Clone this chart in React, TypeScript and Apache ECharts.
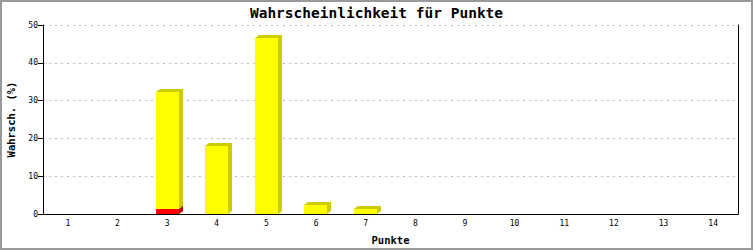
import React, { useEffect, useRef } from "react";
import * as echarts from "echarts";

const categories = ["1", "2", "3", "4", "5", "6", "7", "8", "9", "10", "11", "12", "13", "14"];
const totalValues = [0, 0, 32.2, 18.1, 46.6, 2.5, 1.25, 0, 0, 0, 0, 0, 0, 0];
const redValues = [0, 0, 1.4, 0, 0, 0, 0, 0, 0, 0, 0, 0, 0, 0];
const yTicks = { min: 0, max: 50, interval: 10 };

const MONO = "'DejaVu Sans Mono', monospace";

function makeRender(front: string, side: string, withTop: boolean) {
  return (params: any, api: any) => {
    const idx = api.value(0);
    const v = api.value(1);
    if (!v || v <= 0) return null;
    const top = api.coord([idx, v]);
    const base = api.coord([idx, 0]);
    const bw = api.size([1, 0])[0] * 0.465;
    const x0 = Math.round(top[0] - bw / 2);
    const x1 = x0 + Math.round(bw);
    const yT = Math.round(top[1]);
    const yB = Math.round(base[1]);
    const dx = 4;
    const dy = 3;
    const points = withTop
      ? [
          [x0, yT],
          [x0 + dx, yT - dy],
          [x1 + dx, yT - dy],
          [x1 + dx, yB - dy],
          [x1, yB],
          [x0, yB],
        ]
      : [
          [x1, yT],
          [x1 + dx, yT - dy],
          [x1 + dx, yB - dy],
          [x1, yB],
        ];
    return {
      type: "group",
      children: [
        { type: "polygon", shape: { points }, style: { fill: side } },
        {
          type: "rect",
          shape: { x: x0, y: yT, width: x1 - x0, height: yB - yT },
          style: { fill: front },
        },
      ],
    };
  };
}

export default function App() {
  const ref = useRef<HTMLDivElement>(null);
  useEffect(() => {
    if (!ref.current) return;
    const chart = echarts.init(ref.current, undefined, { renderer: "svg" });
    chart.setOption({
      animation: false,
      backgroundColor: "#ffffff",
      title: {
        text: "Wahrscheinlichkeit für Punkte",
        left: "center",
        top: 0,
        textStyle: { fontFamily: MONO, fontSize: 14.5, fontWeight: "bold", color: "#000" },
      },
      graphic: [
        {
          type: "rect",
          shape: { x: 1, y: 1, width: 751, height: 248 },
          style: { fill: "none", stroke: "#999999", lineWidth: 2 },
          z: 100,
        },
      ],
      grid: { left: 43, right: 15, top: 25, bottom: 36, outerBoundsMode: "none", containLabel: false },
      xAxis: {
        type: "category",
        data: categories,
        name: "Punkte",
        nameLocation: "middle",
        nameGap: 20,
        nameTextStyle: { fontFamily: MONO, fontSize: 10.5, fontWeight: "bold", color: "#000" },
        axisLine: { lineStyle: { color: "#000", width: 1 } },
        axisTick: { show: false },
        axisLabel: { fontFamily: MONO, fontSize: 8, color: "#000", margin: 5 },
      },
      yAxis: [
        {
          type: "value",
          min: yTicks.min,
          max: yTicks.max,
          interval: yTicks.interval,
          name: "Wahrsch. (%)",
          nameLocation: "middle",
          nameRotate: 90,
          nameGap: 27,
          nameTextStyle: { fontFamily: MONO, fontSize: 10.5, fontWeight: "bold", color: "#000" },
          axisLine: { show: true, lineStyle: { color: "#000", width: 1 } },
          axisTick: { show: true, length: 5, lineStyle: { color: "#000" } },
          axisLabel: { fontFamily: MONO, fontSize: 8, color: "#000", margin: 5 },
          splitLine: { show: true, lineStyle: { color: "#bbbbbb", type: [2, 4], width: 1 } },
        },
        {
          type: "value",
          position: "right",
          min: yTicks.min,
          max: yTicks.max,
          interval: yTicks.interval,
          axisLine: { show: true, lineStyle: { color: "#000", width: 1 } },
          axisTick: { show: false },
          axisLabel: { show: false },
          splitLine: { show: false },
        },
      ],
      series: [
        {
          type: "custom",
          name: "total",
          renderItem: makeRender("#ffff00", "#cccc00", true),
          data: totalValues.map((v, i) => [i, v]),
          encode: { x: 0, y: 1 },
          z: 2,
        },
        {
          type: "custom",
          name: "red",
          renderItem: makeRender("#ff0000", "#bb0000", false),
          data: redValues.map((v, i) => [i, v]),
          encode: { x: 0, y: 1 },
          z: 3,
        },
      ],
    });
    return () => chart.dispose();
  }, []);
  return (
    <div
      ref={ref}
      style={{ position: "absolute", left: 0, top: 0, width: 753, height: 250 }}
    />
  );
}
